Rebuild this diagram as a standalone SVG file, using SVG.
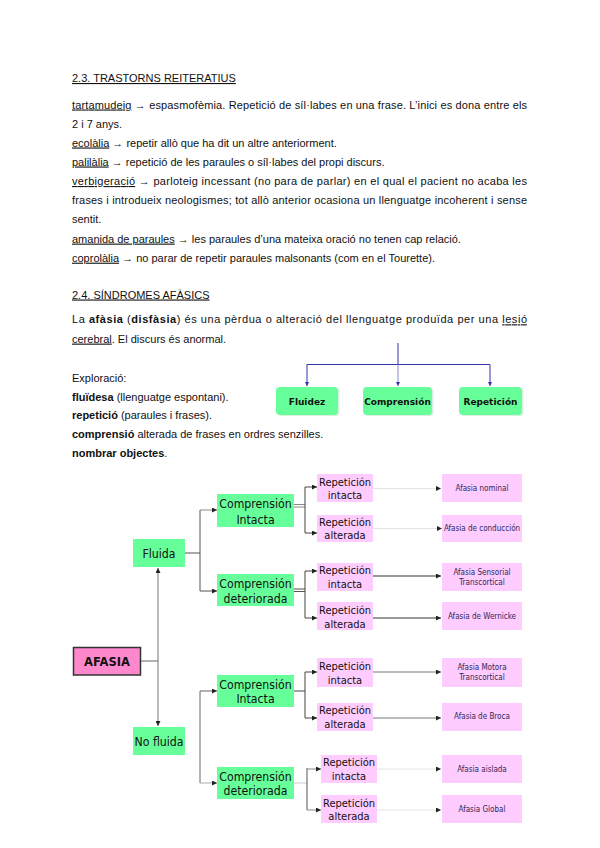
<svg xmlns="http://www.w3.org/2000/svg" width="600" height="848" viewBox="0 0 600 848">
<style>
.t{font-family:"Liberation Sans",Arial,sans-serif;font-size:11px;fill:#111}
.u{text-decoration:underline}
.b{font-weight:bold}
.g{fill:#66ff99}
.p{fill:#ffccff}
.sb{fill:#66ff99}
.st{font-family:"DejaVu Sans",Verdana,sans-serif;font-weight:bold;font-size:9px;fill:#111;text-anchor:middle}
.gt{font-family:"DejaVu Sans Condensed","DejaVu Sans",sans-serif;font-size:12.2px;fill:#111;text-anchor:middle}
.pt{font-family:"DejaVu Sans Condensed","DejaVu Sans",sans-serif;font-size:11px;fill:#111;text-anchor:middle}
.at{font-family:"DejaVu Sans Condensed","DejaVu Sans",sans-serif;font-size:8px;fill:#2a2a5a;text-anchor:middle}
.c{fill:none;stroke-width:1}
</style>
<defs>
<marker id="ad" markerUnits="userSpaceOnUse" markerWidth="5" markerHeight="5" refX="5" refY="2.5" orient="auto"><path d="M0,0L5,2.5L0,5z" fill="#222"/></marker>
<marker id="ab" markerUnits="userSpaceOnUse" markerWidth="4" markerHeight="4" refX="4" refY="2" orient="auto"><path d="M0,0L4,2L0,4z" fill="#3333aa"/></marker>
</defs>
<rect width="600" height="848" fill="#fff"/>

<g id="text">
<text class="t" x="72" y="82"><tspan class="u">2.3. TRASTORNS REITERATIUS</tspan></text>
<text class="t" x="72" y="108.5" textLength="455" lengthAdjust="spacing"><tspan class="u">tartamudeig</tspan> → espasmofèmia. Repetició de síl·labes en una frase. L’inici es dona entre els</text>
<text class="t" x="72" y="127.5">2 i 7 anys.</text>
<text class="t" x="72" y="146.5"><tspan class="u">ecolàlia</tspan> → repetir allò que ha dit un altre anteriorment.</text>
<text class="t" x="72" y="165.5"><tspan class="u">palilàlia</tspan> → repetició de les paraules o síl·labes del propi discurs.</text>
<text class="t" x="72" y="185" textLength="455" lengthAdjust="spacing"><tspan class="u">verbigeració</tspan> → parloteig incessant (no para de parlar) en el qual el pacient no acaba les</text>
<text class="t" x="72" y="204.2" textLength="455" lengthAdjust="spacing">frases i introdueix neologismes; tot allò anterior ocasiona un llenguatge incoherent i sense</text>
<text class="t" x="72" y="223.4">sentit.</text>
<text class="t" x="72" y="242.6"><tspan class="u">amanida de paraules</tspan> → les paraules d’una mateixa oració no tenen cap relació.</text>
<text class="t" x="72" y="261.7"><tspan class="u">coprolàlia</tspan> → no parar de repetir paraules malsonants (com en el Tourette).</text>
<text class="t" x="72" y="298.5"><tspan class="u">2.4. SÍNDROMES AFÀSICS</tspan></text>
<text class="t" x="72" y="323.3" textLength="455" lengthAdjust="spacing">La <tspan class="b">afàsia</tspan> (<tspan class="b">disfàsia</tspan>) és una pèrdua o alteració del llenguatge produïda per una <tspan class="u">lesió</tspan></text>
<text class="t" x="72" y="342.6"><tspan class="u">cerebral</tspan>. El discurs és anormal.</text>
<text class="t" x="72" y="381.6">Exploració:</text>
<text class="t" x="72" y="400.7"><tspan class="b">fluïdesa</tspan> (llenguatge espontani).</text>
<text class="t" x="72" y="419.3"><tspan class="b">repetició</tspan> (paraules i frases).</text>
<text class="t" x="72" y="438.3"><tspan class="b">comprensió</tspan> alterada de frases en ordres senzilles.</text>
<text class="t" x="72" y="456.8"><tspan class="b">nombrar objectes</tspan>.</text>
</g>

<g id="connectors">
<path class="c" stroke="#3333aa" d="M398,343V364.5M307,364.5H490"/>
<path class="c" stroke="#3333aa" d="M307,364.5V386" marker-end="url(#ab)"/>
<path class="c" stroke="#8888cc" d="M398,364.5V386" marker-end="url(#ab)"/>
<path class="c" stroke="#3333aa" d="M490,364.5V386" marker-end="url(#ab)"/>
<path class="c" stroke="#666" d="M141,661H158"/>
<path class="c" stroke="#777" d="M158,661V568" marker-end="url(#ad)"/>
<path class="c" stroke="#777" d="M158,661V726" marker-end="url(#ad)"/>
<path class="c" stroke="#555" d="M185,553H200M200,510V591"/>
<path class="c" stroke="#888" d="M200,510H217" marker-end="url(#ad)"/>
<path class="c" stroke="#555" d="M200,591H217" marker-end="url(#ad)"/>
<path class="c" stroke="#666" d="M200,691V783"/>
<path class="c" stroke="#666" d="M200,691H217" marker-end="url(#ad)"/>
<path class="c" stroke="#aaa" d="M200,783H217" marker-end="url(#ad)"/>
<path class="c" stroke="#888" d="M294,504.5H305M294,507H305"/>
<path class="c" stroke="#444" d="M305,487V533"/>
<path class="c" stroke="#444" d="M305,487H317" marker-end="url(#ad)"/>
<path class="c" stroke="#444" d="M305,533H317" marker-end="url(#ad)"/>
<path class="c" stroke="#e4e4e4" d="M373,488.5H441" marker-end="url(#ad)"/>
<path class="c" stroke="#e4e4e4" d="M373,528.5H442" marker-end="url(#ad)"/>
<path class="c" stroke="#555" d="M294,589H305M294,591.5H305"/>
<path class="c" stroke="#444" d="M305,571V618"/>
<path class="c" stroke="#444" d="M305,571H317" marker-end="url(#ad)"/>
<path class="c" stroke="#444" d="M305,618H317" marker-end="url(#ad)"/>
<path class="c" stroke="#333" d="M373,576H441" marker-end="url(#ad)"/>
<path class="c" stroke="#333" d="M373,618H441" marker-end="url(#ad)"/>
<path class="c" stroke="#444" d="M294,691H305M305,672V718"/>
<path class="c" stroke="#444" d="M305,672H317" marker-end="url(#ad)"/>
<path class="c" stroke="#444" d="M305,718H317" marker-end="url(#ad)"/>
<path class="c" stroke="#777" d="M373,672H441" marker-end="url(#ad)"/>
<path class="c" stroke="#777" d="M373,718H441" marker-end="url(#ad)"/>
<path class="c" stroke="#ccc" d="M294,783H307"/>
<path class="c" stroke="#555" d="M307,768V810"/>
<path class="c" stroke="#888" d="M307,769H321" marker-end="url(#ad)"/>
<path class="c" stroke="#888" d="M307,810H321" marker-end="url(#ad)"/>
<path class="c" stroke="#e4e4e4" d="M377,769H441" marker-end="url(#ad)"/>
<path class="c" stroke="#e4e4e4" d="M377,810H441" marker-end="url(#ad)"/>
</g>

<g id="n-fluidez"><rect x="277.5" y="388" width="62" height="28" rx="4" fill="#d8eedf"/><rect x="276" y="387" width="62" height="28" rx="4" class="sb"/><text class="st" x="307" y="404.5">Fluidez</text></g>
<g id="n-comprension"><rect x="364.5" y="388" width="69" height="28" rx="4" fill="#d8eedf"/><rect x="363" y="387" width="69" height="28" rx="4" class="sb"/><text class="st" x="397.5" y="404.5">Comprensión</text></g>
<g id="n-repeticion"><rect x="460.5" y="388" width="63" height="28" rx="4" fill="#d8eedf"/><rect x="459" y="387" width="63" height="28" rx="4" class="sb"/><text class="st" x="490.5" y="404.5">Repetición</text></g>

<g id="n-afasia"><rect x="73.5" y="647.5" width="67" height="27.5" fill="#ff88cc" stroke="#333" stroke-width="1.5"/><text x="107" y="665.5" font-family="DejaVu Sans,Verdana,sans-serif" font-weight="bold" font-size="11.5" fill="#111" text-anchor="middle">AFASIA</text></g>
<g id="n-fluida"><rect x="133" y="539" width="52" height="28" class="g"/><text class="gt" x="159" y="557.5">Fluida</text></g>
<g id="n-nofluida"><rect x="133" y="727" width="52" height="28" class="g"/><text class="gt" x="159" y="745.5">No fluida</text></g>

<g id="n-ci1"><rect x="217" y="494" width="77" height="33" class="g"/><text class="gt" x="255.5" y="508">Comprensión</text><text class="gt" x="255.5" y="523.5">Intacta</text></g>
<g id="n-cd1"><rect x="217" y="574" width="77" height="32" class="g"/><text class="gt" x="255.5" y="587.7">Comprensión</text><text class="gt" x="255.5" y="603">deteriorada</text></g>
<g id="n-ci2"><rect x="217" y="675" width="77" height="32" class="g"/><text class="gt" x="255.5" y="689.3">Comprensión</text><text class="gt" x="255.5" y="703.3">Intacta</text></g>
<g id="n-cd2"><rect x="217" y="767" width="77" height="32" class="g"/><text class="gt" x="255.5" y="780.7">Comprensión</text><text class="gt" x="255.5" y="795.3">deteriorada</text></g>

<g id="n-ri1"><rect x="317" y="474" width="56" height="28" class="p"/><text class="pt" x="345" y="485.7">Repetición</text><text class="pt" x="345" y="499">intacta</text></g>
<g id="n-ra1"><rect x="317" y="515" width="56" height="27" class="p"/><text class="pt" x="345" y="525.7">Repetición</text><text class="pt" x="345" y="539">alterada</text></g>
<g id="n-ri2"><rect x="317" y="563" width="56" height="28" class="p"/><text class="pt" x="345" y="574.3">Repetición</text><text class="pt" x="345" y="587.7">intacta</text></g>
<g id="n-ra2"><rect x="317" y="602" width="56" height="28" class="p"/><text class="pt" x="345" y="614">Repetición</text><text class="pt" x="345" y="627.7">alterada</text></g>
<g id="n-ri3"><rect x="317" y="658" width="56" height="29" class="p"/><text class="pt" x="345" y="670">Repetición</text><text class="pt" x="345" y="684">intacta</text></g>
<g id="n-ra3"><rect x="317" y="703" width="56" height="28" class="p"/><text class="pt" x="345" y="714">Repetición</text><text class="pt" x="345" y="727.7">alterada</text></g>
<g id="n-ri4"><rect x="321" y="755" width="56" height="28" class="p"/><text class="pt" x="349" y="766">Repetición</text><text class="pt" x="349" y="780">intacta</text></g>
<g id="n-ra4"><rect x="321" y="795" width="56" height="28" class="p"/><text class="pt" x="349" y="806.7">Repetición</text><text class="pt" x="349" y="820">alterada</text></g>

<g id="n-nominal"><rect x="442" y="474" width="80" height="28" class="p"/><text class="at" x="482" y="491">Afasia nominal</text></g>
<g id="n-conduccion"><rect x="442" y="515" width="80" height="27" class="p"/><text class="at" x="482" y="531">Afasia de conducción</text></g>
<g id="n-sensorial"><rect x="442" y="563" width="80" height="28" class="p"/><text class="at" x="482" y="574.5">Afasia Sensorial</text><text class="at" x="482" y="584.5">Transcortical</text></g>
<g id="n-wernicke"><rect x="442" y="602" width="80" height="28" class="p"/><text class="at" x="482" y="619.3">Afasia de Wernicke</text></g>
<g id="n-motora"><rect x="442" y="658" width="80" height="29" class="p"/><text class="at" x="482" y="670">Afasia Motora</text><text class="at" x="482" y="680">Transcortical</text></g>
<g id="n-broca"><rect x="442" y="703" width="80" height="28" class="p"/><text class="at" x="482" y="719.3">Afasia de Broca</text></g>
<g id="n-aislada"><rect x="442" y="755" width="80" height="28" class="p"/><text class="at" x="482" y="771.7">Afasia aislada</text></g>
<g id="n-global"><rect x="442" y="795" width="80" height="28" class="p"/><text class="at" x="482" y="811.7">Afasia Global</text></g>
</svg>
